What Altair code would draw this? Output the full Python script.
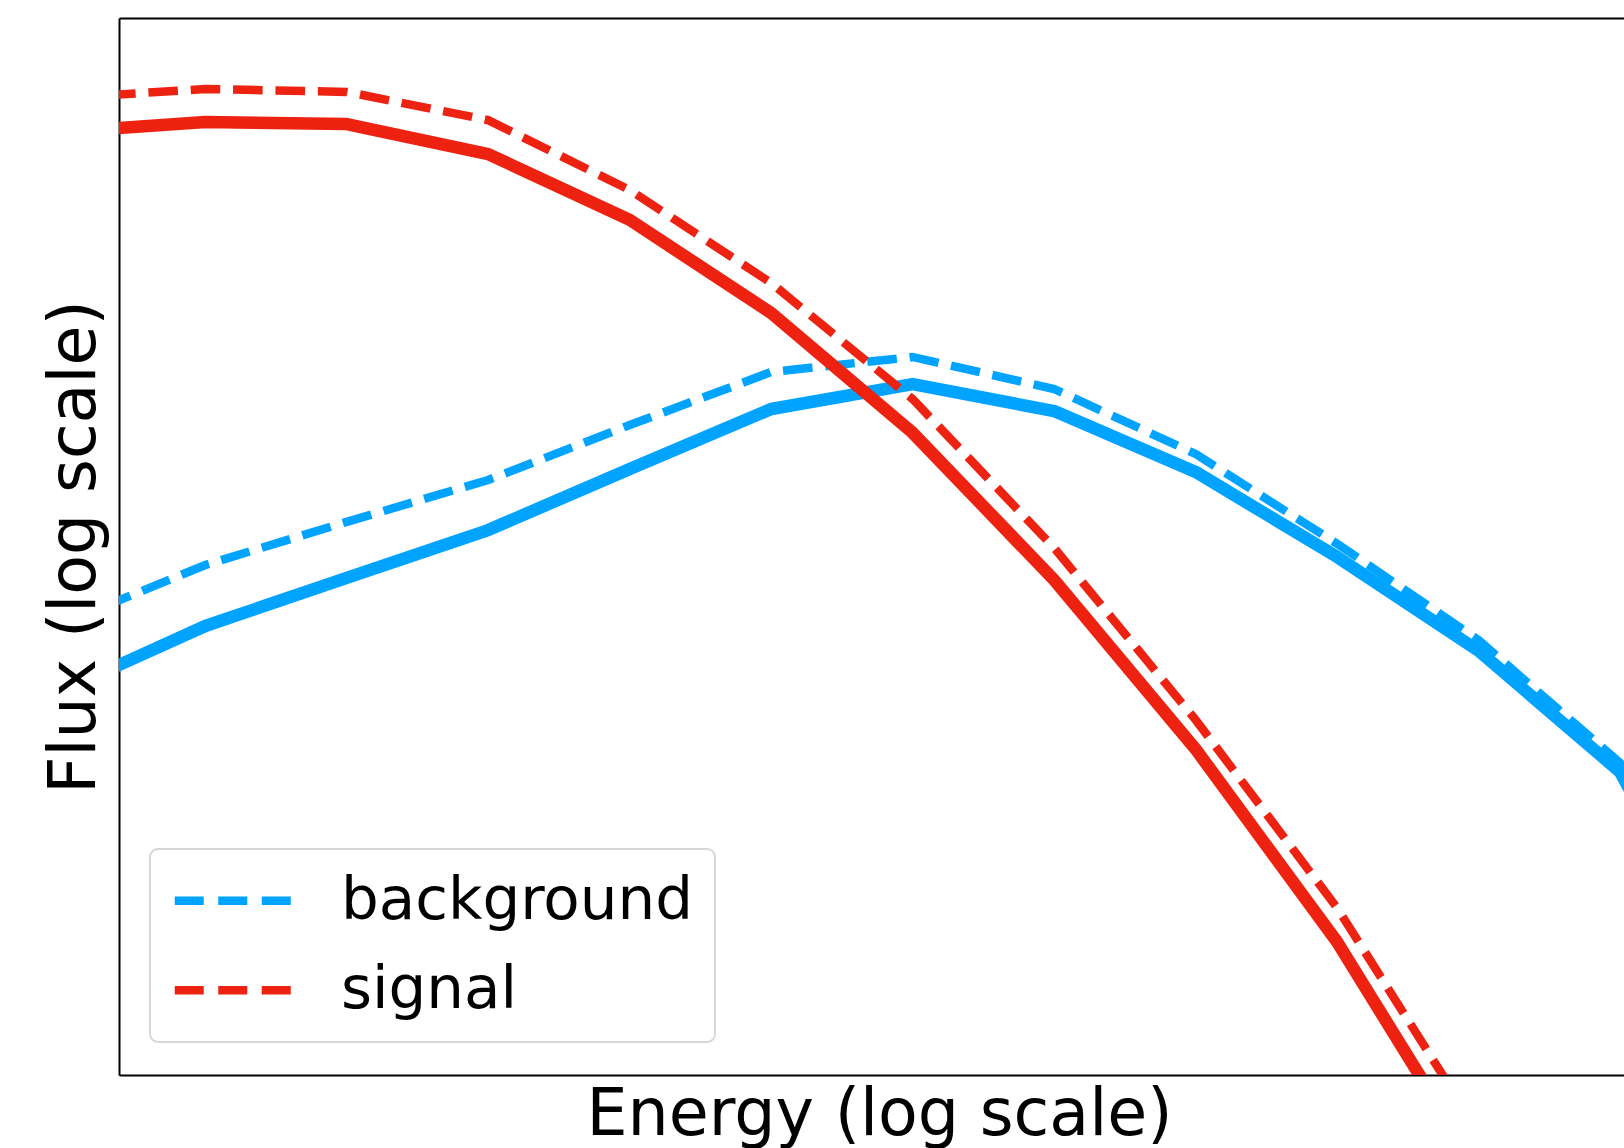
import altair as alt
import pandas as pd

# ---- data ----
energy = [1.0, 1.585, 2.512, 3.981, 6.31, 10.0, 15.85, 25.12, 39.81, 63.1, 100.0, 158.5, 251.2]

signal_solid = [8.34e-2, 1.04e-1, 9.93e-2, 5.16e-2, 1.23e-2, 1.62e-3, 1.19e-4,
                4.82e-6, 1.21e-7, 1.81e-9, 1.24e-11, 5.45e-14, 1.22e-16]
signal_dashed = [1.75e-1, 2.13e-1, 2.00e-1, 1.08e-1, 2.36e-2, 3.11e-3, 2.48e-4,
                 9.68e-6, 2.29e-7, 3.80e-9, 2.89e-11, 1.30e-13, 2.92e-16]
background_solid = [4.39e-7, 1.77e-6, 5.04e-6, 1.43e-5, 5.41e-5, 2.00e-4, 3.44e-4,
                    1.91e-4, 5.07e-5, 7.96e-6, 1.03e-6, 7.36e-8, 2.39e-10]
background_dashed = [1.89e-6, 6.68e-6, 1.71e-5, 4.26e-5, 1.41e-4, 4.48e-4, 6.21e-4,
                     3.09e-4, 7.50e-5, 1.06e-5, 1.30e-6, 8.95e-8, 2.97e-10]

series_names = ["background", "signal"]
series_colors = ["#00a4ff", "#ee2211"]
energy_limits = [1.197, 160.5]
flux_limits = [1e-10, 1.0]

FONT = "DejaVu Sans"
DASH = [29.6, 12.8]


def frame(values, source):
    return pd.DataFrame({"energy": energy, "flux": values, "source": source})


x_scale = alt.Scale(type="log", domain=energy_limits, nice=False)
y_scale = alt.Scale(type="log", domain=flux_limits, nice=False)
color_scale = alt.Scale(domain=series_names, range=series_colors)

y_axis = alt.Axis(
    title="Flux (log scale)", labels=False, ticks=False, grid=False,
    domain=True, domainColor="black", domainWidth=2,
    titleFont=FONT, titleFontSize=65, titleFontWeight="normal", titleColor="black",
    titleX=-25, titleY=528.5, titleAngle=270, titleAlign="center",
    titleBaseline="alphabetic",
)
x_axis_bottom = alt.Axis(
    orient="bottom", title="Energy (log scale)", labels=False, ticks=False, grid=False,
    domain=True, domainColor="black", domainWidth=2,
    titleFont=FONT, titleFontSize=65, titleFontWeight="normal", titleColor="black",
    titleX=760, titleY=59, titleAlign="center", titleBaseline="alphabetic",
)
x_axis_top = alt.Axis(
    orient="top", title=None, labels=False, ticks=False, grid=False,
    domain=True, domainColor="black", domainWidth=2,
)

legend = alt.Legend(
    title=None, orient="none", legendX=31, legendY=831, direction="vertical",
    symbolType="M-4,0H4", symbolSize=855.6, symbolStrokeWidth=8.5,
    symbolDash=[29, 14.5], symbolOffset=31.5,
    labelOffset=78, labelFont=FONT, labelFontSize=59.5, labelColor="black", labelLimit=0,
    padding=22, rowPadding=28.5,
    strokeColor="#d6d6d6", cornerRadius=8, fillColor="white",
)


def layer(df, dashed, x_axis):
    if dashed:
        mark = alt.Chart(df).mark_line(clip=True, strokeWidth=8.5, strokeDash=DASH)
    else:
        mark = alt.Chart(df).mark_line(clip=True, strokeWidth=12.5, strokeJoin="round")
    return mark.encode(
        x=alt.X("energy:Q", scale=x_scale, axis=x_axis),
        y=alt.Y("flux:Q", scale=y_scale, axis=y_axis),
        color=alt.Color("source:N", scale=color_scale, legend=legend),
    )


chart = alt.layer(
    layer(frame(background_solid, "background"), False, x_axis_bottom),
    layer(frame(background_dashed, "background"), True, None),
    layer(frame(signal_solid, "signal"), False, None),
    layer(frame(signal_dashed, "signal"), True, x_axis_top),
).resolve_axis(
    x="independent"
).properties(
    width=1505, height=1057,
    padding={"left": 119, "top": 18, "right": 0, "bottom": 73},
    autosize=alt.AutoSizeParams(type="none"),
    background="white",
).configure_view(
    stroke=None
).configure_legend(
    strokeWidth=2
)

chart.save("out.html", embed_options={"renderer": "svg", "actions": False})
